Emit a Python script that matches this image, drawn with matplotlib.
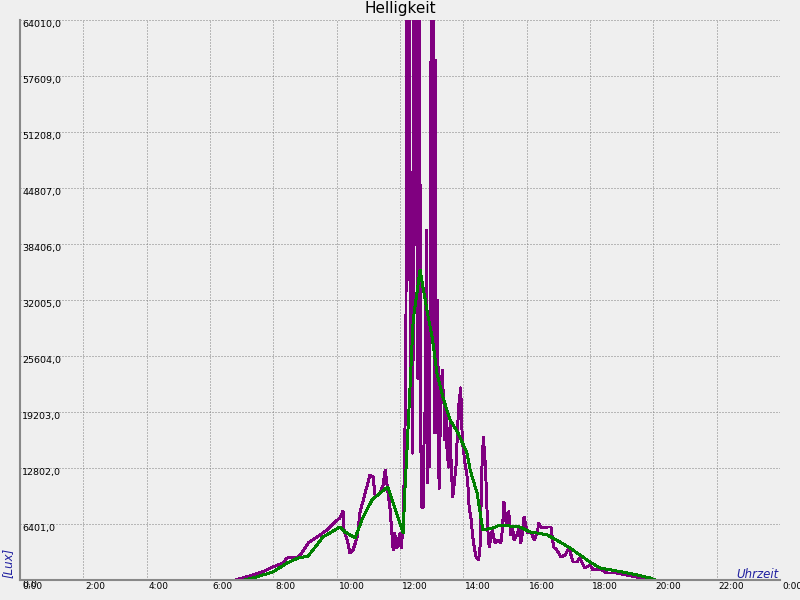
import numpy as np
import matplotlib.pyplot as plt
from matplotlib.transforms import ScaledTranslation

# Messwerte (Lux) - violett
lux_times = [
    "0:00", "6:49", "6:59", "7:21", "7:40", "7:59", "8:18", "8:26", "8:47", "8:54",
    "9:06", "9:28", "9:42", "9:57", "10:06", "10:12", "10:14", "10:20", "10:25", "10:31",
    "10:39", "10:44", "10:57", "11:03", "11:09", "11:13", "11:22", "11:28", "11:32", "11:35",
    "11:41", "11:47", "11:50", "11:54", "12:00", "12:02", "12:06", "12:08", "12:09", "12:11",
    "12:13", "12:15", "12:17", "12:19", "12:21", "12:23", "12:24", "12:25", "12:26", "12:28",
    "12:30", "12:32", "12:33", "12:34", "12:37", "12:39", "12:41", "12:44", "12:45", "12:48",
    "12:50", "12:52", "12:54", "12:56", "12:58", "13:00", "13:02", "13:03", "13:05", "13:07",
    "13:08", "13:11", "13:14", "13:17", "13:20", "13:21", "13:23", "13:25", "13:27", "13:29",
    "13:32", "13:35", "13:37", "13:40", "13:46", "13:51", "13:55", "13:58", "14:03", "14:08",
    "14:11", "14:15", "14:17", "14:20", "14:24", "14:29", "14:32", "14:35", "14:38", "14:42",
    "14:46", "14:49", "14:52", "14:55", "15:00", "15:05", "15:11", "15:14", "15:17", "15:21",
    "15:24", "15:26", "15:30", "15:33", "15:36", "15:43", "15:45", "15:49", "15:52", "15:55",
    "15:59", "16:02", "16:08", "16:14", "16:20", "16:23", "16:27", "16:33", "16:39", "16:46",
    "16:51", "16:57", "17:05", "17:13", "17:20", "17:28", "17:35", "17:41", "17:50", "18:00",
    "18:06", "18:19", "18:32", "18:51", "19:10", "19:29", "19:48", "19:59", "24:00",
]
lux_values = [
    0, 0, 190, 570, 950, 1490, 1940, 2510, 2630, 3090,
    4230, 5140, 5720, 6630, 7090, 7890, 5720, 4570, 3090, 3430,
    4910, 7660, 10630, 12000, 11770, 9490, 9940, 10860, 12570, 11090,
    8230, 3430, 5370, 3660, 5370, 3660, 6060, 12230, 16000, 22860,
    70000, 34290, 70000, 35000, 23200, 33000, 14500, 70000, 25140, 70000,
    40000, 70000, 48240, 23000, 70000, 18290, 8340, 8340, 14500, 20570,
    40000, 11090, 24000, 13000, 53720, 70000, 28000, 70000, 16800, 59440,
    16800, 32000, 10500, 20000, 24000, 22000, 21000, 16000, 19000, 15000,
    12900, 18000, 13000, 9490, 12900, 19770, 21950, 16000, 13370, 11500,
    8340, 6860, 5370, 4000, 2630, 2290, 4000, 12570, 16340, 12910,
    6060, 3770, 4800, 5720, 4230, 4570, 4230, 5720, 8910, 6520,
    7660, 7800, 5140, 6060, 4570, 5370, 6060, 4230, 5370, 7200,
    6060, 5370, 5490, 4570, 5370, 6520, 6060, 5940, 6060, 6060,
    3770, 3430, 2630, 2860, 3660, 2060, 2060, 2510, 1370, 1710,
    1140, 1250, 800, 800, 570, 340, 230, 0, 0,
]

# geglaetteter Verlauf - gruen
avg_times = [
    "0:28", "7:06", "7:21", "7:40", "7:59", "8:26", "8:47", "9:06", "9:15", "9:34",
    "9:47", "10:06", "10:16", "10:35", "10:50", "11:07", "11:22", "11:37", "11:47", "12:06",
    "12:09", "12:13", "12:19", "12:25", "12:32", "12:38", "12:52", "13:01", "13:10", "13:21",
    "13:35", "13:50", "14:07", "14:13", "14:26", "14:37", "14:56", "15:10", "15:28", "15:47",
    "16:06", "16:20", "16:39", "16:50", "17:03", "17:22", "17:41", "18:00", "18:19", "18:51",
    "19:21", "19:54", "20:03", "23:47",
]
avg_values = [
    0, 0, 230, 570, 910, 1940, 2510, 2740, 3430, 4910,
    5370, 6060, 5490, 4800, 7200, 9140, 9940, 10630, 8800, 5370,
    9940, 14500, 22060, 29720, 32800, 35430, 30500, 27770, 23660, 20920,
    18290, 16800, 14500, 12570, 9940, 5720, 5940, 6290, 6170, 6060,
    5490, 5370, 5140, 4800, 4340, 3660, 2860, 2060, 1370, 1030,
    690, 230, 0, 0,
]

x_ticks = list(range(0, 25, 2))
x_labels = ["%d:00" % (h % 24) for h in x_ticks]
y_ticks = [6401 * i for i in range(11)]
y_labels = [("%.1f" % v).replace(".", ",") for v in y_ticks]


def to_hours(times):
    return np.array([int(t.split(":")[0]) + int(t.split(":")[1]) / 60 for t in times])


bg = "#efefef"
fig = plt.figure(figsize=(8, 6), dpi=100, facecolor=bg)
ax = fig.add_axes([20 / 800, 20 / 600, 760 / 800, 560 / 600])
ax.set_facecolor(bg)

ax.plot(to_hours(lux_times), lux_values, color="#800080", lw=1.4, antialiased=False)
ax.plot(to_hours(avg_times), avg_values, color="#008000", lw=1.4, antialiased=False)

ax.set_xlim(0, 24)
ax.set_ylim(0, 64010)
ax.set_xticks(x_ticks)
ax.set_xticklabels(x_labels, ha="left", fontsize=6.5)
ax.set_yticks(y_ticks)
ax.set_yticklabels(y_labels, ha="left", va="top", fontsize=6.8)
ax.tick_params(length=0)
ax.tick_params(axis="y", pad=-1.5)
ax.tick_params(axis="x", pad=1.5)

offset = ScaledTranslation(2 / 100, 0, fig.dpi_scale_trans)
for lbl in ax.get_xticklabels():
    lbl.set_transform(lbl.get_transform() + offset)

ax.grid(True, color="#808080", lw=0.72, ls=(0, (1, 2)))
ax.set_axisbelow(True)

for side in ["top", "right"]:
    ax.spines[side].set_visible(False)
for side in ["left", "bottom"]:
    ax.spines[side].set_color("#888888")
    ax.spines[side].set_linewidth(1.5)

ax.set_title("Helligkeit", fontsize=11, pad=5)

fig.text(8 / 800, 22 / 600, "[Lux]", rotation=90, ha="center", va="bottom",
         color="#2020a0", style="italic", fontsize=8.5)
fig.text(779 / 800, 22 / 600, "Uhrzeit", ha="right", va="baseline",
         color="#2020a0", style="italic", fontsize=8.5)

fig.savefig("out.png", dpi=100, facecolor=bg)
